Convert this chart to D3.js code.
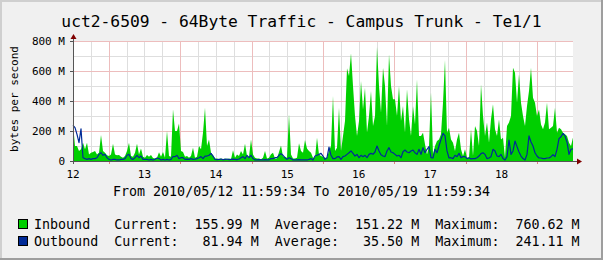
<!DOCTYPE html>
<html><head><meta charset="utf-8">
<script src="https://cdn.jsdelivr.net/npm/d3@7"></script>
<style>
body{margin:0;background:#F0F0F0;overflow:hidden}
svg{display:block}
text{font-family:"DejaVu Sans Mono",monospace;fill:#000}
</style>
</head><body>
<svg id="chart" width="603" height="260"></svg>
<script>
const title = "uct2-6509 - 64Byte Traffic - Campus Trunk - Te1/1";
const yAxisTitle = "bytes per second";
const periodText = "From 2010/05/12 11:59:34 To 2010/05/19 11:59:34";
const startTime = Date.UTC(2010, 4, 12, 11, 59, 34);
const endTime = Date.UTC(2010, 4, 19, 11, 59, 34);
const dayLabels = ["12", "13", "14", "15", "16", "17", "18"];
const yTicks = [0, 200, 400, 600, 800];
const yTickLabels = ["0", "200 M", "400 M", "600 M", "800 M"];
const seriesNames = ["Inbound", "Outbound"];
const seriesColors = ["#00CF00", "#002A97"];
const currentVals = [155.99, 81.94];
const averageVals = [151.22, 35.50];
const maximumVals = [760.62, 241.11];

// inbound, M bytes/s, evenly spaced samples over the week
const inbound = [
245,100,100,67,78,122,78,122,44,55,
60,67,44,55,173,67,55,38,33,44,
115,44,38,40,29,22,33,67,122,33,
29,55,115,44,84,29,22,40,29,40,
20,16,22,58,29,60,22,200,33,29,
345,200,200,250,67,60,29,33,22,33,
89,22,29,100,78,189,355,100,144,55,
38,16,16,11,16,11,16,11,16,11,
71,22,44,33,67,44,115,33,29,144,
44,22,16,16,11,22,67,16,22,45,
55,16,16,60,104,29,29,22,311,44,
16,16,22,118,67,55,140,84,67,55,
22,22,155,44,33,29,22,22,67,100,
433,67,89,355,67,167,267,618,567,718,
500,300,167,267,533,344,489,189,300,467,
233,300,760,500,322,622,500,233,711,500,
411,411,300,500,267,367,189,478,278,167,
367,244,544,167,167,189,111,44,100,456,
44,100,133,144,178,389,673,189,222,144,
122,67,144,189,78,33,78,22,22,211,
33,233,200,100,511,300,167,256,122,278,
378,211,167,278,144,155,22,233,256,300,
622,589,389,578,389,300,233,367,467,622,
422,389,300,344,244,211,256,389,211,222,
233,355,189,222,211,189,178,167,122,100,
156];

// outbound, M bytes/s
const outbound = [
238,222,178,122,215,22,16,11,16,11,
16,16,22,44,55,38,44,22,11,7,
11,11,7,7,11,11,16,38,44,16,
11,22,38,22,33,11,11,11,7,11,
7,11,20,16,7,11,7,11,7,11,
30,29,38,16,22,22,11,13,11,16,
11,13,16,22,29,16,33,33,38,51,
33,11,9,11,13,9,11,13,9,11,
13,11,9,13,22,29,16,38,22,38,
16,7,7,9,7,7,9,7,7,16,
16,22,22,38,49,38,22,11,22,16,
7,7,7,9,7,7,7,7,11,16,
7,33,38,44,51,33,11,22,93,38,
16,16,27,29,11,29,33,44,55,67,
51,33,44,22,38,29,38,22,44,51,
45,60,100,67,42,33,29,67,89,60,
55,44,33,38,22,62,73,60,55,67,
73,55,44,78,44,89,55,78,96,22,
20,78,55,100,144,184,167,67,20,22,
16,38,29,51,22,29,29,16,22,14,
16,16,22,33,49,55,44,16,20,29,
78,67,33,29,44,16,7,29,140,44,
67,133,96,60,33,16,7,44,167,127,
100,55,33,20,20,16,16,20,20,29,
42,29,78,149,162,184,167,127,44,78,
82];

const W = 603, H = 260;
const plot = {left: 73, right: 573, top: 41, bottom: 161};
const svg = d3.select("#chart");

// background + 3D border
svg.append("rect").attr("x",0).attr("y",0).attr("width",W).attr("height",H).attr("fill","#F0F0F0");
svg.append("path").attr("d",`M0,0H${W}V2H2V${H}H0Z`).attr("fill","#CFCFCF");
svg.append("path").attr("d",`M${W},${H}H0V${H-2}H${W-2}V0H${W}Z`).attr("fill","#9E9E9E");

const x = d3.scaleUtc().domain([startTime, endTime]).range([plot.left, plot.right]);
const y = d3.scaleLinear().domain([0, 800]).range([plot.bottom, plot.top]);

const n = inbound.length;
const times = d3.range(n).map(i => startTime + i * (endTime - startTime) / (n - 1));

// canvas
svg.append("rect").attr("x",plot.left).attr("y",plot.top).attr("width",plot.right-plot.left).attr("height",plot.bottom-plot.top).attr("fill","#FFFFFF");

const grid = svg.append("g").attr("shape-rendering","crispEdges");
// minor grid
const minorY = d3.range(100, 801, 200);
grid.selectAll(".mny").data(minorY).join("line")
  .attr("x1",plot.left).attr("x2",plot.right)
  .attr("y1",d=>Math.round(y(d))+0.5).attr("y2",d=>Math.round(y(d))+0.5)
  .attr("stroke","#DEDEDE");
const minorX = d3.utcHour.every(6).range(new Date(startTime), new Date(endTime))
  .filter(d => d.getUTCHours() !== 0);
grid.selectAll(".mnx").data(minorX).join("line")
  .attr("y1",plot.top).attr("y2",plot.bottom)
  .attr("x1",d=>Math.round(x(d))+0.5).attr("x2",d=>Math.round(x(d))+0.5)
  .attr("stroke","#DEDEDE");
// major grid
grid.selectAll(".mjy").data(yTicks.filter(v=>v>0)).join("line")
  .attr("x1",plot.left).attr("x2",plot.right)
  .attr("y1",d=>Math.round(y(d))+0.5).attr("y2",d=>Math.round(y(d))+0.5)
  .attr("stroke","#EDBDBD");
const majorX = d3.utcDay.range(new Date(startTime), new Date(endTime));
grid.selectAll(".mjx").data(majorX).join("line")
  .attr("y1",plot.top).attr("y2",plot.bottom)
  .attr("x1",d=>Math.round(x(d))+0.5).attr("x2",d=>Math.round(x(d))+0.5)
  .attr("stroke","#EDBDBD");

// inbound area
const area = d3.area().x((d,i)=>x(times[i])).y0(y(0)).y1(d=>y(d));
svg.append("path").datum(inbound).attr("d",area).attr("fill",seriesColors[0]);

// outbound line
const line = d3.line().x((d,i)=>x(times[i])).y(d=>y(d));
svg.append("path").datum(outbound).attr("d",line).attr("fill","none")
  .attr("stroke",seriesColors[1]).attr("stroke-width",1.2).attr("stroke-linejoin","round");

// axes
const ax = svg.append("g").attr("shape-rendering","crispEdges");
ax.append("line").attr("x1",plot.left-3).attr("x2",plot.right+4).attr("y1",plot.bottom+0.5).attr("y2",plot.bottom+0.5).attr("stroke","#555");
ax.append("line").attr("x1",plot.left+0.5).attr("x2",plot.left+0.5).attr("y1",plot.bottom+3).attr("y2",plot.top-3).attr("stroke","#555");
// y ticks
ax.selectAll(".yt").data(yTicks).join("line")
  .attr("x1",plot.left-3).attr("x2",plot.left)
  .attr("y1",d=>Math.round(y(d))+0.5).attr("y2",d=>Math.round(y(d))+0.5).attr("stroke","#555");
// x ticks at major grid
ax.selectAll(".xt").data(majorX).join("line")
  .attr("y1",plot.bottom+1).attr("y2",plot.bottom+3)
  .attr("x1",d=>Math.round(x(d))+0.5).attr("x2",d=>Math.round(x(d))+0.5).attr("stroke","#E08080");
// arrows
svg.append("path").attr("d",`M${plot.right+4},${plot.bottom-2.5}L${plot.right+9},${plot.bottom+0.5}L${plot.right+4},${plot.bottom+3.5}Z`).attr("fill","#800000");
svg.append("path").attr("d",`M${plot.left-2.5},${plot.top-2}L${plot.left+0.5},${plot.top-7}L${plot.left+3.5},${plot.top-2}Z`).attr("fill","#800000");

// y labels
svg.selectAll(".yl").data(yTicks).join("text")
  .attr("x",65).attr("y",d=>y(d)+4).attr("text-anchor","end")
  .attr("font-size","11px").text((d,i)=>yTickLabels[i]);
// x labels at noon
const noons = dayLabels.map((l,i)=> startTime - (startTime % 86400000) + 43200000 + i*86400000);
svg.selectAll(".xl").data(noons).join("text")
  .attr("x",d=>x(d)).attr("y",178).attr("text-anchor","middle")
  .attr("font-size","11px").text((d,i)=>dayLabels[i]);

// y axis title
svg.append("text").attr("transform","translate(18,99) rotate(-90)")
  .attr("text-anchor","middle").attr("font-size","11px").text(yAxisTitle);

// title
svg.append("text").attr("x",W/2).attr("y",27).attr("text-anchor","middle")
  .attr("font-size","16.3px").text(title);

// period
svg.append("text").attr("x",W/2).attr("y",196).attr("text-anchor","middle")
  .attr("font-size","13.33px").attr("style","white-space:pre").text(periodText);

// legend
const legendRows = [229, 246];
seriesNames.forEach((name,i)=>{
  const s = name.padEnd(10) + "Current:" + currentVals[i].toFixed(2).padStart(8) +
    " M  Average:" + averageVals[i].toFixed(2).padStart(8) +
    " M  Maximum:" + maximumVals[i].toFixed(2).padStart(8) + " M";
  svg.append("rect").attr("x",18.5).attr("y",legendRows[i]-9.5).attr("width",9).attr("height",9)
    .attr("fill",seriesColors[i]).attr("stroke","#000").attr("stroke-width",1);
  svg.append("text").attr("x",34).attr("y",legendRows[i]).attr("font-size","13.33px")
    .attr("style","white-space:pre").text(s);
});
</script>
</body></html>
